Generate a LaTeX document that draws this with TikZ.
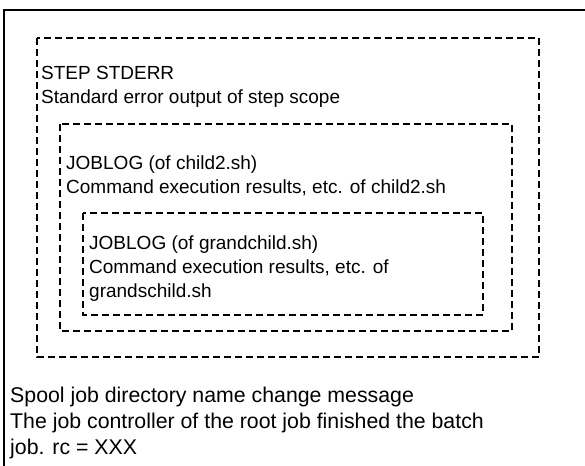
\documentclass[tikz,border=0pt]{standalone}
\usepackage{fontspec}
\setmainfont{Liberation Sans}
\begin{document}
\begin{tikzpicture}[x=1pt,y=-1pt,
  frameline/.style={line width=1.4pt},
  dbox/.style={draw, line width=1.2pt, dash pattern=on 7pt off 4pt},
  txt/.style={anchor=base west, inner sep=0pt, font=\fontsize{19}{23}\selectfont},
  bigtxt/.style={anchor=base west, inner sep=0pt, font=\fontsize{21.3}{26}\selectfont}]
\useasboundingbox (0,0) rectangle (585,465);
% outer frame (cropped)
\draw[frameline] (4,466) -- (4,10) -- (586,10);
% dashed scopes
\draw[dbox] (37,38) rectangle (539,357);
\draw[dbox] (60,124) rectangle (512,331);
\draw[dbox] (83,213) rectangle (483,315);
% step scope text
\node[txt] (s1) at (41,80) {STEP STDERR};
\node[txt] (s2) at (41,104) {Standard error output of step scope};
% child2 text
\node[txt] (c1) at (66,169) {JOBLOG (of child2.sh)};
\node[txt] (c2) at (66,193) {Command execution results, etc. of child2.sh};
% grandchild text
\node[txt] (g1) at (89,249) {JOBLOG (of grandchild.sh)};
\node[txt] (g2) at (89,273) {Command execution results, etc. of};
\node[txt] (g3) at (89,297) {grandschild.sh};
% bottom text
\node[bigtxt] (b1) at (10,402) {Spool job directory name change message};
\node[bigtxt] (b2) at (10,428) {The job controller of the root job finished the batch};
\node[bigtxt] (b3) at (10,454) {job. rc = XXX};
\end{tikzpicture}
\end{document}
